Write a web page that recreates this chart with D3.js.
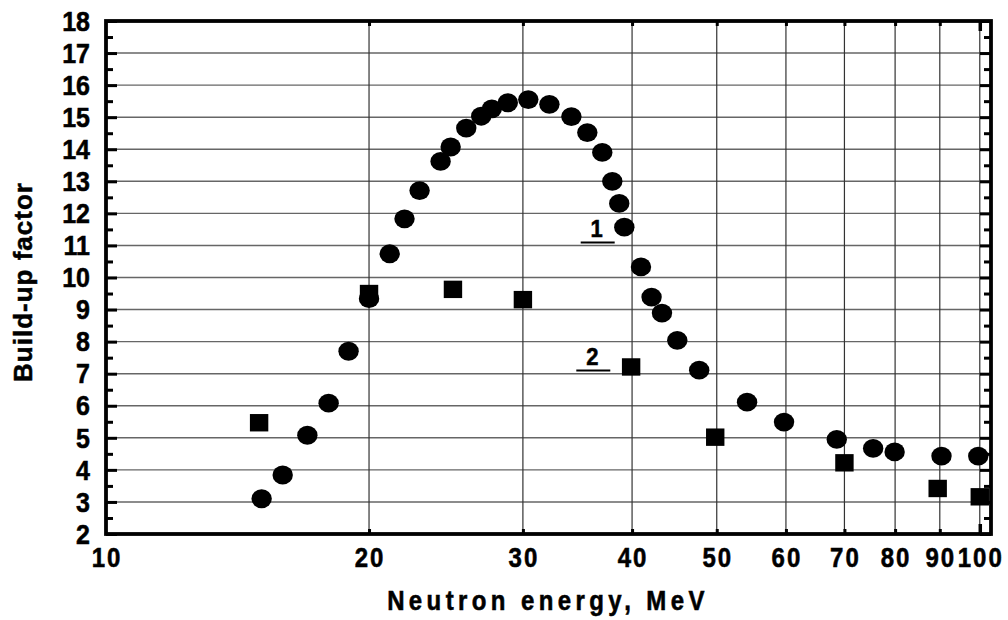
<!DOCTYPE html>
<html>
<head>
<meta charset="utf-8">
<script src="https://cdn.jsdelivr.net/npm/d3@7"></script>
<style>
  body { margin: 0; background: #fff; }
  svg text { font-family: "Liberation Sans", Arial, sans-serif; font-weight: bold; fill: #000; stroke: #000; stroke-width: 0.5px; }
</style>
</head>
<body>
<div id="chart"></div>
<script>
var svgWidth = 1008;
var svgHeight = 620;

// series 1 (circles)
var energy1 = [15.07, 15.93, 17.0, 17.98, 18.95, 20.0, 21.12, 21.96, 22.85, 24.15, 24.8, 25.84, 26.88,
  27.64, 28.83, 30.43, 32.17, 34.09, 35.55, 36.98, 37.97, 38.67, 39.19, 40.95, 42.11, 43.28, 45.06,
  47.74, 54.16, 59.7, 68.6, 75.5, 79.9, 90.4, 99.6];
var factor1 = [3.1, 3.84, 5.08, 6.08, 7.7, 9.34, 10.74, 11.83, 12.71, 13.62, 14.07, 14.66, 15.03,
  15.26, 15.45, 15.55, 15.4, 15.02, 14.52, 13.9, 13.0, 12.31, 11.57, 10.33, 9.39, 8.89, 8.04,
  7.11, 6.11, 5.49, 4.95, 4.67, 4.56, 4.43, 4.43];

// series 2 (squares)
var energy2 = [14.97, 20, 24.95, 30, 39.9, 49.8, 70, 89.5, 100];
var factor2 = [5.47, 9.5, 9.63, 9.31, 7.21, 5.02, 4.22, 3.42, 3.16];

// tick values
var xTicks = [10, 20, 30, 40, 50, 60, 70, 80, 90, 100];
var yTicks = [2, 3, 4, 5, 6, 7, 8, 9, 10, 11, 12, 13, 14, 15, 16, 17, 18];
var yMinor = [2.5, 3.5, 4.5, 5.5, 6.5, 7.5, 8.5, 9.5, 10.5, 11.5, 12.5, 13.5, 14.5, 15.5, 16.5, 17.5];

// curve labels
var labelText = ["1", "2"];
var labelEnergy = [36.44, 36.02];
var labelFactor = [11.26, 7.27];

var margin = { top: 21, right: 17, bottom: 86, left: 106 };
var width = svgWidth - margin.left - margin.right;
var height = svgHeight - margin.top - margin.bottom;

var svg = d3.select("#chart")
  .append("svg")
  .attr("width", svgWidth)
  .attr("height", svgHeight);

var chartGroup = svg.append("g")
  .attr("transform", `translate(${margin.left}, ${margin.top})`);

var xScale = d3.scaleLog()
  .domain([10, 103])
  .range([0, width]);

var yScale = d3.scaleLinear()
  .domain([2, 18])
  .range([height, 0]);

// grid lines
chartGroup.append("g")
  .selectAll("line")
  .data(yTicks.slice(1, -1))
  .enter()
  .append("line")
  .attr("x1", 0)
  .attr("x2", width)
  .attr("y1", d => yScale(d))
  .attr("y2", d => yScale(d))
  .attr("stroke", "#666")
  .attr("stroke-width", 1.4);

chartGroup.append("g")
  .selectAll("line")
  .data(xTicks.slice(1))
  .enter()
  .append("line")
  .attr("x1", d => xScale(d))
  .attr("x2", d => xScale(d))
  .attr("y1", 0)
  .attr("y2", height)
  .attr("stroke", "#333")
  .attr("stroke-width", 1.2);

// axes (inward ticks)
var yAxisLeft = d3.axisRight(yScale).tickValues(yTicks).tickSize(11).tickFormat("");
var yAxisLeftMinor = d3.axisRight(yScale).tickValues(yMinor).tickSize(7).tickFormat("");
var yAxisRight = d3.axisLeft(yScale).tickValues(yTicks).tickSize(11).tickFormat("");
var yAxisRightMinor = d3.axisLeft(yScale).tickValues(yMinor).tickSize(7).tickFormat("");
var xAxisBottom = d3.axisTop(xScale).tickValues(xTicks.slice(1, -1)).tickSize(5).tickFormat("");
var xAxisTop = d3.axisBottom(xScale).tickValues(xTicks.slice(1, -1)).tickSize(5).tickFormat("");

[
  [yAxisLeft, 0, 0], [yAxisLeftMinor, 0, 0],
  [yAxisRight, width, 0], [yAxisRightMinor, width, 0],
  [xAxisBottom, 0, height], [xAxisTop, 0, 0]
].forEach(function(a) {
  var g = chartGroup.append("g")
    .attr("transform", `translate(${a[1]}, ${a[2]})`)
    .call(a[0]);
  g.select(".domain").remove();
  g.selectAll("line").attr("stroke", "#000").attr("stroke-width", 3);
});

// tick at 100 is larger
chartGroup.append("g")
  .call(d3.axisBottom(xScale).tickValues([100]).tickSize(10).tickFormat(""))
  .call(g => g.select(".domain").remove())
  .selectAll("line").attr("stroke", "#000").attr("stroke-width", 3.5);
chartGroup.append("g")
  .attr("transform", `translate(0, ${height})`)
  .call(d3.axisTop(xScale).tickValues([100]).tickSize(10).tickFormat(""))
  .call(g => g.select(".domain").remove())
  .selectAll("line").attr("stroke", "#000").attr("stroke-width", 3.5);

// frame
chartGroup.append("rect")
  .attr("x", 0)
  .attr("y", 0)
  .attr("width", width)
  .attr("height", height)
  .attr("fill", "none")
  .attr("stroke", "#000")
  .attr("stroke-width", 3.8);

// tick labels
chartGroup.append("g")
  .selectAll("text")
  .data(yTicks)
  .enter()
  .append("text")
  .attr("transform", d => `translate(-16, ${yScale(d)}) scale(1, 1.08)`)
  .attr("dy", "0.36em")
  .attr("text-anchor", "end")
  .style("font-size", "25px")
  .text(d => d);

chartGroup.append("g")
  .selectAll("text")
  .data(xTicks)
  .enter()
  .append("text")
  .attr("transform", d => `translate(${xScale(d) + 1}, ${height + 33}) scale(1, 1.15)`)
  .attr("text-anchor", "middle")
  .style("font-size", "24px")
  .style("letter-spacing", "2px")
  .text(d => d);

// series 1: circles
chartGroup.append("g")
  .selectAll("ellipse")
  .data(energy1)
  .enter()
  .append("ellipse")
  .attr("cx", d => xScale(d))
  .attr("cy", (d, i) => yScale(factor1[i]))
  .attr("rx", 10.2)
  .attr("ry", 9.4)
  .attr("fill", "#000");

// series 2: squares
chartGroup.append("g")
  .selectAll("rect")
  .data(energy2)
  .enter()
  .append("rect")
  .attr("x", d => xScale(d) - 9.2)
  .attr("y", (d, i) => yScale(factor2[i]) - 8.7)
  .attr("width", 18.4)
  .attr("height", 17.4)
  .attr("fill", "#000");

// curve labels with underline
var labels = chartGroup.append("g")
  .selectAll("g")
  .data(labelText)
  .enter()
  .append("g")
  .attr("transform", (d, i) => `translate(${xScale(labelEnergy[i])}, ${yScale(labelFactor[i])})`);

labels.append("text")
  .attr("text-anchor", "middle")
  .attr("transform", "scale(1, 1.1)")
  .style("font-size", "22px")
  .text(d => d);

labels.append("line")
  .attr("x1", -16)
  .attr("x2", 18)
  .attr("y1", 5.5)
  .attr("y2", 5.5)
  .attr("stroke", "#000")
  .attr("stroke-width", 2);

// axis titles
svg.append("text")
  .attr("transform", "translate(32, 282) rotate(-90)")
  .attr("text-anchor", "middle")
  .style("font-size", "26px")
  .style("letter-spacing", "1px")
  .text("Build-up factor");

svg.append("text")
  .attr("transform", "translate(548, 610) scale(1, 1.12)")
  .attr("text-anchor", "middle")
  .style("font-size", "24px")
  .style("letter-spacing", "4.4px")
  .text("Neutron energy, MeV");
</script>
</body>
</html>
